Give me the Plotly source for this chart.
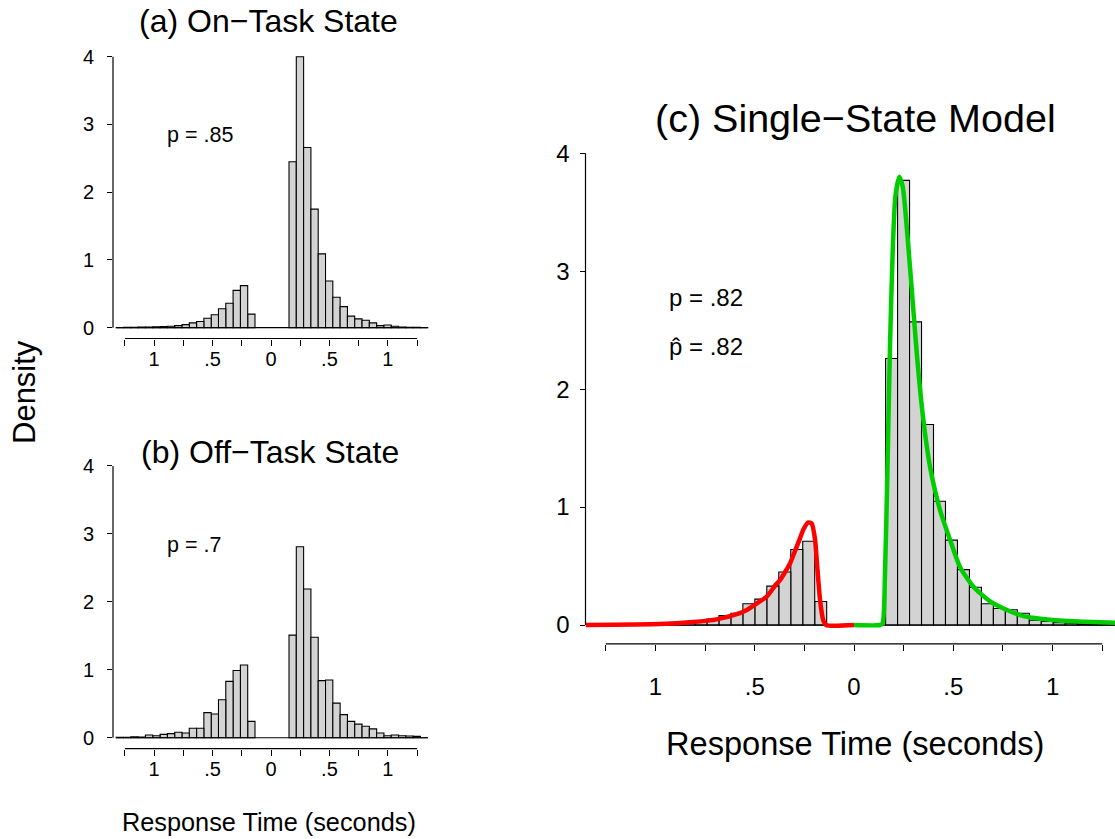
import plotly.graph_objects as go

# ---------------- data ----------------
# Panels (a) and (b): histogram bins of width 0.0625 s.
ab_bin_width = 0.0625
ab_neg_edge = -0.137   # upper edge of the negative (error) bins, bins go outward from here
ab_pos_edge = 0.154    # lower edge of the positive (correct) bins

# heights, ordered from the bin closest to zero outward
a_neg = [0.20, 0.62, 0.55, 0.36, 0.28, 0.19, 0.14, 0.09, 0.07, 0.045,
         0.03, 0.02, 0.015, 0.012, 0.01, 0.008, 0.005, 0.004, 0.003]
a_pos = [2.45, 4.00, 2.66, 1.75, 1.09, 0.69, 0.45, 0.31, 0.17, 0.13,
         0.11, 0.07, 0.03, 0.04, 0.02, 0.01, 0.005, 0.004, 0.003]
b_neg = [0.24, 1.07, 0.99, 0.83, 0.56, 0.35, 0.37, 0.14, 0.14, 0.07,
         0.08, 0.06, 0.05, 0.03, 0.04, 0.01, 0.015, 0.005, 0.005]
b_pos = [1.51, 2.81, 2.19, 1.48, 0.84, 0.85, 0.51, 0.34, 0.24, 0.20,
         0.17, 0.13, 0.07, 0.03, 0.04, 0.03, 0.025, 0.02, 0.0]

# Panel (c): histogram bins of width 0.0603 s
c_bin_width = 0.0603
c_neg_edge = -0.1376
c_pos_edge = 0.159
c_neg = [0.20, 0.71, 0.64, 0.45, 0.33, 0.22, 0.18, 0.10, 0.08, 0.05,
         0.035, 0.02, 0.015, 0.01, 0.008, 0.005, 0.004, 0.003, 0.002, 0.001]
c_pos = [2.26, 3.77, 2.57, 1.70, 1.05, 0.72, 0.47, 0.32, 0.18, 0.14,
         0.13, 0.10, 0.04, 0.03, 0.02, 0.015, 0.01, 0.008, 0.005, 0.003]

# fitted model densities
red_x = [-1.352, -0.978, -0.810, -0.692, -0.575, -0.540, -0.474, -0.440, -0.390, -0.373,
         -0.323, -0.306, -0.272, -0.255, -0.230, -0.213, -0.196, -0.185, -0.171, -0.155,
         -0.141, 0.0]
red_y = [0.0, 0.008, 0.025, 0.048, 0.10, 0.127, 0.20, 0.24, 0.35, 0.38,
         0.52, 0.59, 0.735, 0.81, 0.87, 0.86, 0.72, 0.49, 0.21, 0.04,
         0.0, 0.0]
green_x = [0.0, 0.131, 0.144, 0.156, 0.168, 0.181, 0.195, 0.208, 0.228, 0.245,
           0.262, 0.291, 0.316, 0.349, 0.383, 0.433, 0.484, 0.534, 0.601, 0.685,
           0.770, 0.853, 0.938, 1.105, 1.316]
green_y = [0.0, 0.0, 0.014, 0.44, 1.29, 2.36, 3.18, 3.63, 3.80, 3.72,
           3.44, 2.84, 2.30, 1.74, 1.34, 0.975, 0.72, 0.49, 0.325, 0.20,
           0.127, 0.076, 0.054, 0.031, 0.02]

x_tick_vals = [-1.25, -1.0, -0.75, -0.5, -0.25, 0.0, 0.25, 0.5, 0.75, 1.0, 1.25]
x_tick_text = ["", "1", "", ".5", "", "0", "", ".5", "", "1", ""]
y_tick_vals = [0, 1, 2, 3, 4]

titles = ["(a) On\u2212Task State", "(b) Off\u2212Task State", "(c) Single\u2212State Model"]
p_labels = ["p = .85", "p = .7", "p = .82", "p\u0302 = .82"]
x_title = "Response Time (seconds)"
y_title = "Density"

FONT = "Liberation Sans, Arial, Helvetica, sans-serif"
W, H = 1115, 839
BAR_FILL = "#D3D3D3"


def bins(neg_edge, pos_edge, width, neg, pos):
    xs, ys = [], []
    for k, h in enumerate(neg):
        xs.append(neg_edge - (k + 0.5) * width)
        ys.append(h)
    for k, h in enumerate(pos):
        xs.append(pos_edge + (k + 0.5) * width)
        ys.append(h)
    lo = neg_edge - len(neg) * width
    hi = pos_edge + len(pos) * width
    return xs, ys, lo, hi


fig = go.Figure()

panels = [
    dict(neg_edge=ab_neg_edge, pos_edge=ab_pos_edge, w=ab_bin_width, neg=a_neg, pos=a_pos, ax=""),
    dict(neg_edge=ab_neg_edge, pos_edge=ab_pos_edge, w=ab_bin_width, neg=b_neg, pos=b_pos, ax="2"),
    dict(neg_edge=c_neg_edge, pos_edge=c_pos_edge, w=c_bin_width, neg=c_neg, pos=c_pos, ax="3"),
]

for p in panels:
    xs, ys, lo, hi = bins(p["neg_edge"], p["pos_edge"], p["w"], p["neg"], p["pos"])
    xa = "x" + p["ax"]
    ya = "y" + p["ax"]
    # baseline drawn by the empty bins
    fig.add_trace(go.Scatter(x=[lo, hi], y=[0, 0], mode="lines",
                             line=dict(color="black", width=1.2),
                             xaxis=xa, yaxis=ya, showlegend=False, hoverinfo="skip"))
    fig.add_trace(go.Bar(x=xs, y=ys, width=[p["w"]] * len(xs),
                         marker=dict(color=BAR_FILL, line=dict(color="black", width=1.1)),
                         xaxis=xa, yaxis=ya, showlegend=False))

fig.add_trace(go.Scatter(x=red_x, y=red_y, mode="lines",
                         line=dict(color="#FF0000", width=4.5, shape="spline", smoothing=0.6),
                         xaxis="x3", yaxis="y3", showlegend=False))
fig.add_trace(go.Scatter(x=green_x, y=green_y, mode="lines",
                         line=dict(color="#00CD00", width=4.5, shape="spline", smoothing=0.6),
                         xaxis="x3", yaxis="y3", showlegend=False))

# domains in pixels (left, right, top, bottom)
small_x = (113 / W, 429 / W)
dom = {
    "": (small_x, ((H - 338.5) / H, (H - 45.9) / H)),
    "2": (small_x, ((H - 748.6) / H, (H - 455.1) / H)),
    "3": ((585.5 / W, 1.0), ((H - 643.9) / H, (H - 134.4) / H)),
}
xr = {"": [-1.352, 1.352], "2": [-1.352, 1.352], "3": [-1.352, 1.314]}
tick_size = {"": 20, "2": 20, "3": 24}
x_standoff = {"": -4, "2": -4, "3": 15}
y_standoff = {"": 9, "2": 9, "3": 5}

layout = dict(
    width=W, height=H, autosize=False,
    margin=dict(l=0, r=0, t=0, b=0, pad=0),
    paper_bgcolor="white", plot_bgcolor="white",
    font=dict(family=FONT, color="black"),
    barmode="overlay", showlegend=False,
)
shapes = []
for k, (dx, dy) in dom.items():
    xname = "xaxis" + k
    yname = "yaxis" + k
    layout[xname] = dict(domain=list(dx), range=xr[k], anchor="y" + k,
                         tickmode="array", tickvals=x_tick_vals, ticktext=x_tick_text,
                         ticks="outside", ticklen=6, tickwidth=1.2, tickcolor="black",
                         showgrid=False, zeroline=False, showline=False,
                         tickfont=dict(size=tick_size[k], family=FONT, color="black"),
                         ticklabelstandoff=x_standoff[k], fixedrange=True)
    layout[yname] = dict(domain=list(dy), range=[-0.16, 4.16], anchor="x" + k,
                         tickmode="array", tickvals=y_tick_vals,
                         ticks="outside", ticklen=5, tickwidth=1.2, tickcolor="black",
                         showgrid=False, zeroline=False, showline=False,
                         tickfont=dict(size=tick_size[k], family=FONT, color="black"),
                         ticklabelstandoff=y_standoff[k], fixedrange=True)
    xref = "x" + k
    yref = "y" + k
    shapes.append(dict(type="line", xref=xref, yref=yref + " domain",
                       x0=x_tick_vals[0], x1=x_tick_vals[-1], y0=0, y1=0,
                       line=dict(color="black", width=1.2)))
    shapes.append(dict(type="line", xref=xref + " domain", yref=yref,
                       x0=0, x1=0, y0=y_tick_vals[0], y1=y_tick_vals[-1],
                       line=dict(color="black", width=1.2)))
layout["shapes"] = shapes


def paper_text(text, px, py, size, angle=0):
    return dict(text=text, x=px / W, y=1 - py / H, xref="paper", yref="paper",
                xanchor="center", yanchor="middle", showarrow=False, textangle=angle,
                font=dict(size=size, family=FONT))


ann = [
    paper_text(titles[0], 268.5, 21, 32),
    paper_text(titles[1], 269.5, 452, 32),
    paper_text(titles[2], 855, 118, 39.5),
    paper_text(x_title, 268.8, 822, 25.3),
    paper_text(x_title, 855, 743, 32.6),
    paper_text(y_title, 24, 392, 31, angle=-90),
]
ann.append(dict(text=p_labels[0], x=-0.907, y=2.85, xref="x", yref="y", xanchor="left",
                showarrow=False, font=dict(size=21.5, family=FONT)))
ann.append(dict(text=p_labels[1], x=-0.907, y=2.84, xref="x2", yref="y2", xanchor="left",
                showarrow=False, font=dict(size=21.5, family=FONT)))
ann.append(dict(text=p_labels[2], x=-0.943, y=2.78, xref="x3", yref="y3", xanchor="left",
                showarrow=False, font=dict(size=24, family=FONT)))
ann.append(dict(text=p_labels[3], x=-0.943, y=2.36, xref="x3", yref="y3", xanchor="left",
                showarrow=False, font=dict(size=24, family=FONT)))
layout["annotations"] = ann

fig.update_layout(**layout)
fig.write_html("out.html", config={"displayModeBar": False},
               post_script="document.body.style.margin='0px';document.body.style.padding='0px';")
